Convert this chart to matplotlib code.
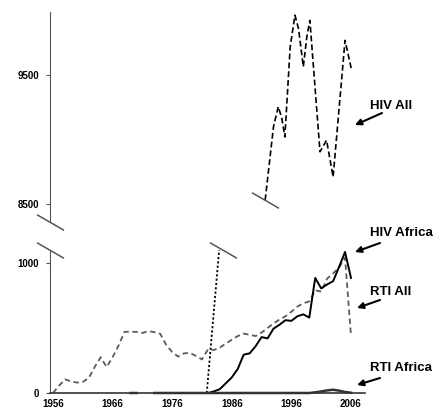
import numpy as np
import matplotlib
matplotlib.use("Agg")
import matplotlib.pyplot as plt

plt.rcParams['font.family'] = ['Liberation Sans', 'DejaVu Sans']
plt.rcParams['font.weight'] = 'bold'

# yearly series, bottom panel
years = np.arange(1956, 2007)
rti_all = [0, 55, 105, 90, 80, 85, 115, 200, 275, 200,
           275, 365, 470, 472, 470, 462, 476, 468, 455, 370,
           315, 280, 305, 308, 285, 258, 335, 331, 350, 380,
           410, 438, 457, 448, 438, 465, 500, 535, 565, 590,
           625, 665, 690, 705, 790, 780, 880, 920, 965, 1040,
           440]

hiv_africa_years = np.arange(1982, 2007)
hiv_africa = [0, 12, 30, 75, 120, 185, 295, 305, 360, 430,
              420, 495, 525, 560, 555, 590, 605, 580, 885, 805,
              835, 860, 970, 1085, 885]

rti_africa_years = np.arange(1969, 2007)
rti_africa = [0, 0, np.nan, np.nan] + [0] * 27 + [5, 12, 20, 25, 18, 8, 2]

# HIV All: rise in the lower panel, then the upper panel part
hiv_all_low_years = [1981.8, 1983.9]
hiv_all_low = [0, 1110]
hiv_all_years = [1991.6, 1993.0, 1993.8, 1994.4, 1994.9, 1995.8, 1996.6, 1997.2,
                 1998.0, 1998.6, 1999.1, 2000.8, 2001.9, 2003.0, 2005.0, 2006.1]
hiv_all = [8530, 9100, 9255, 9165, 9020, 9720, 9965, 9860,
           9565, 9800, 9925, 8905, 8995, 8710, 9770, 9540]

labels = ["HIV All", "HIV Africa", "RTI All", "RTI Africa"]

W, H = 442, 411
fig = plt.figure(figsize=(W / 100, H / 100), dpi=100)

def fx(px):
    return px / W

def fy(py):
    return 1 - py / H

ax_top = fig.add_axes([fx(50), fy(222), 315 / W, 210 / H])
ax_bot = fig.add_axes([fx(50), fy(393), 315 / W, 143 / H])

spine_col = '#555555'
brk = [(-13, 7.5), (13, -7.5)]

for ax in (ax_top, ax_bot):
    ax.set_xlim(1955.5, 2008.35)
    ax.spines['top'].set_visible(False)
    ax.spines['right'].set_visible(False)
    ax.spines['left'].set_color(spine_col)
    ax.tick_params(axis='y', length=3, width=0.8, color=spine_col, pad=5, labelsize=7)

ax_top.set_ylim(8360, 9990)
ax_top.spines['bottom'].set_visible(False)
ax_top.set_xticks([])
ax_top.set_yticks([8500, 9500])

ax_bot.set_ylim(0, 1100)
ax_bot.set_yticks([0, 1000])
ax_bot.spines['bottom'].set_color('#333333')
ax_bot.spines['bottom'].set_linewidth(1.2)
ax_bot.set_xticks(np.arange(1956, 2007, 10))
ax_bot.tick_params(axis='x', length=0, pad=4, labelsize=7)

# series
ax_top.plot(hiv_all_years, hiv_all, color='black', lw=1.2, dashes=(3.5, 1.8))
ax_bot.plot(hiv_all_low_years, hiv_all_low, color='black', lw=1.3, dashes=(1.2, 1.2))
ax_bot.plot(years, rti_all, color='#5a5a5a', lw=1.3, dashes=(3, 2))
ax_bot.plot(hiv_africa_years, hiv_africa, color='black', lw=1.4)
ax_bot.plot(rti_africa_years, rti_africa, color='#333333', lw=1.8, clip_on=False)

# break marks on the axis and on the HIV All line
mk = dict(marker=brk, markersize=19.5, markeredgewidth=1.1,
          markeredgecolor=spine_col, linestyle='none', clip_on=False)
ax_top.plot([1955.5], [8360], **mk)
ax_bot.plot([1955.5], [1100], **mk)
ax_top.plot([hiv_all_years[0]], [hiv_all[0]], **mk)
ax_bot.plot([hiv_all_low_years[-1] + 0.6], [hiv_all_low[-1] - 10], **mk)

# labels with arrows
text_pos = [(370, 106), (370, 233), (370, 292), (370, 368)]
arrows = [((382, 113), (355, 125)), ((380, 243), (355, 252)),
          ((380, 300), (357, 308)), ((380, 378), (357, 385))]
for lab, (tx, ty), (tail, head) in zip(labels, text_pos, arrows):
    fig.text(fx(tx), fy(ty), lab, fontsize=9.5, fontweight='bold', ha='left', va='center')
    fig.add_artist(matplotlib.patches.FancyArrowPatch(
        (fx(tail[0]), fy(tail[1])), (fx(head[0]), fy(head[1])),
        transform=fig.transFigure, arrowstyle='-|>', mutation_scale=9,
        color='black', lw=1.5, shrinkA=0, shrinkB=0))

fig.savefig("out.png", dpi=100)
